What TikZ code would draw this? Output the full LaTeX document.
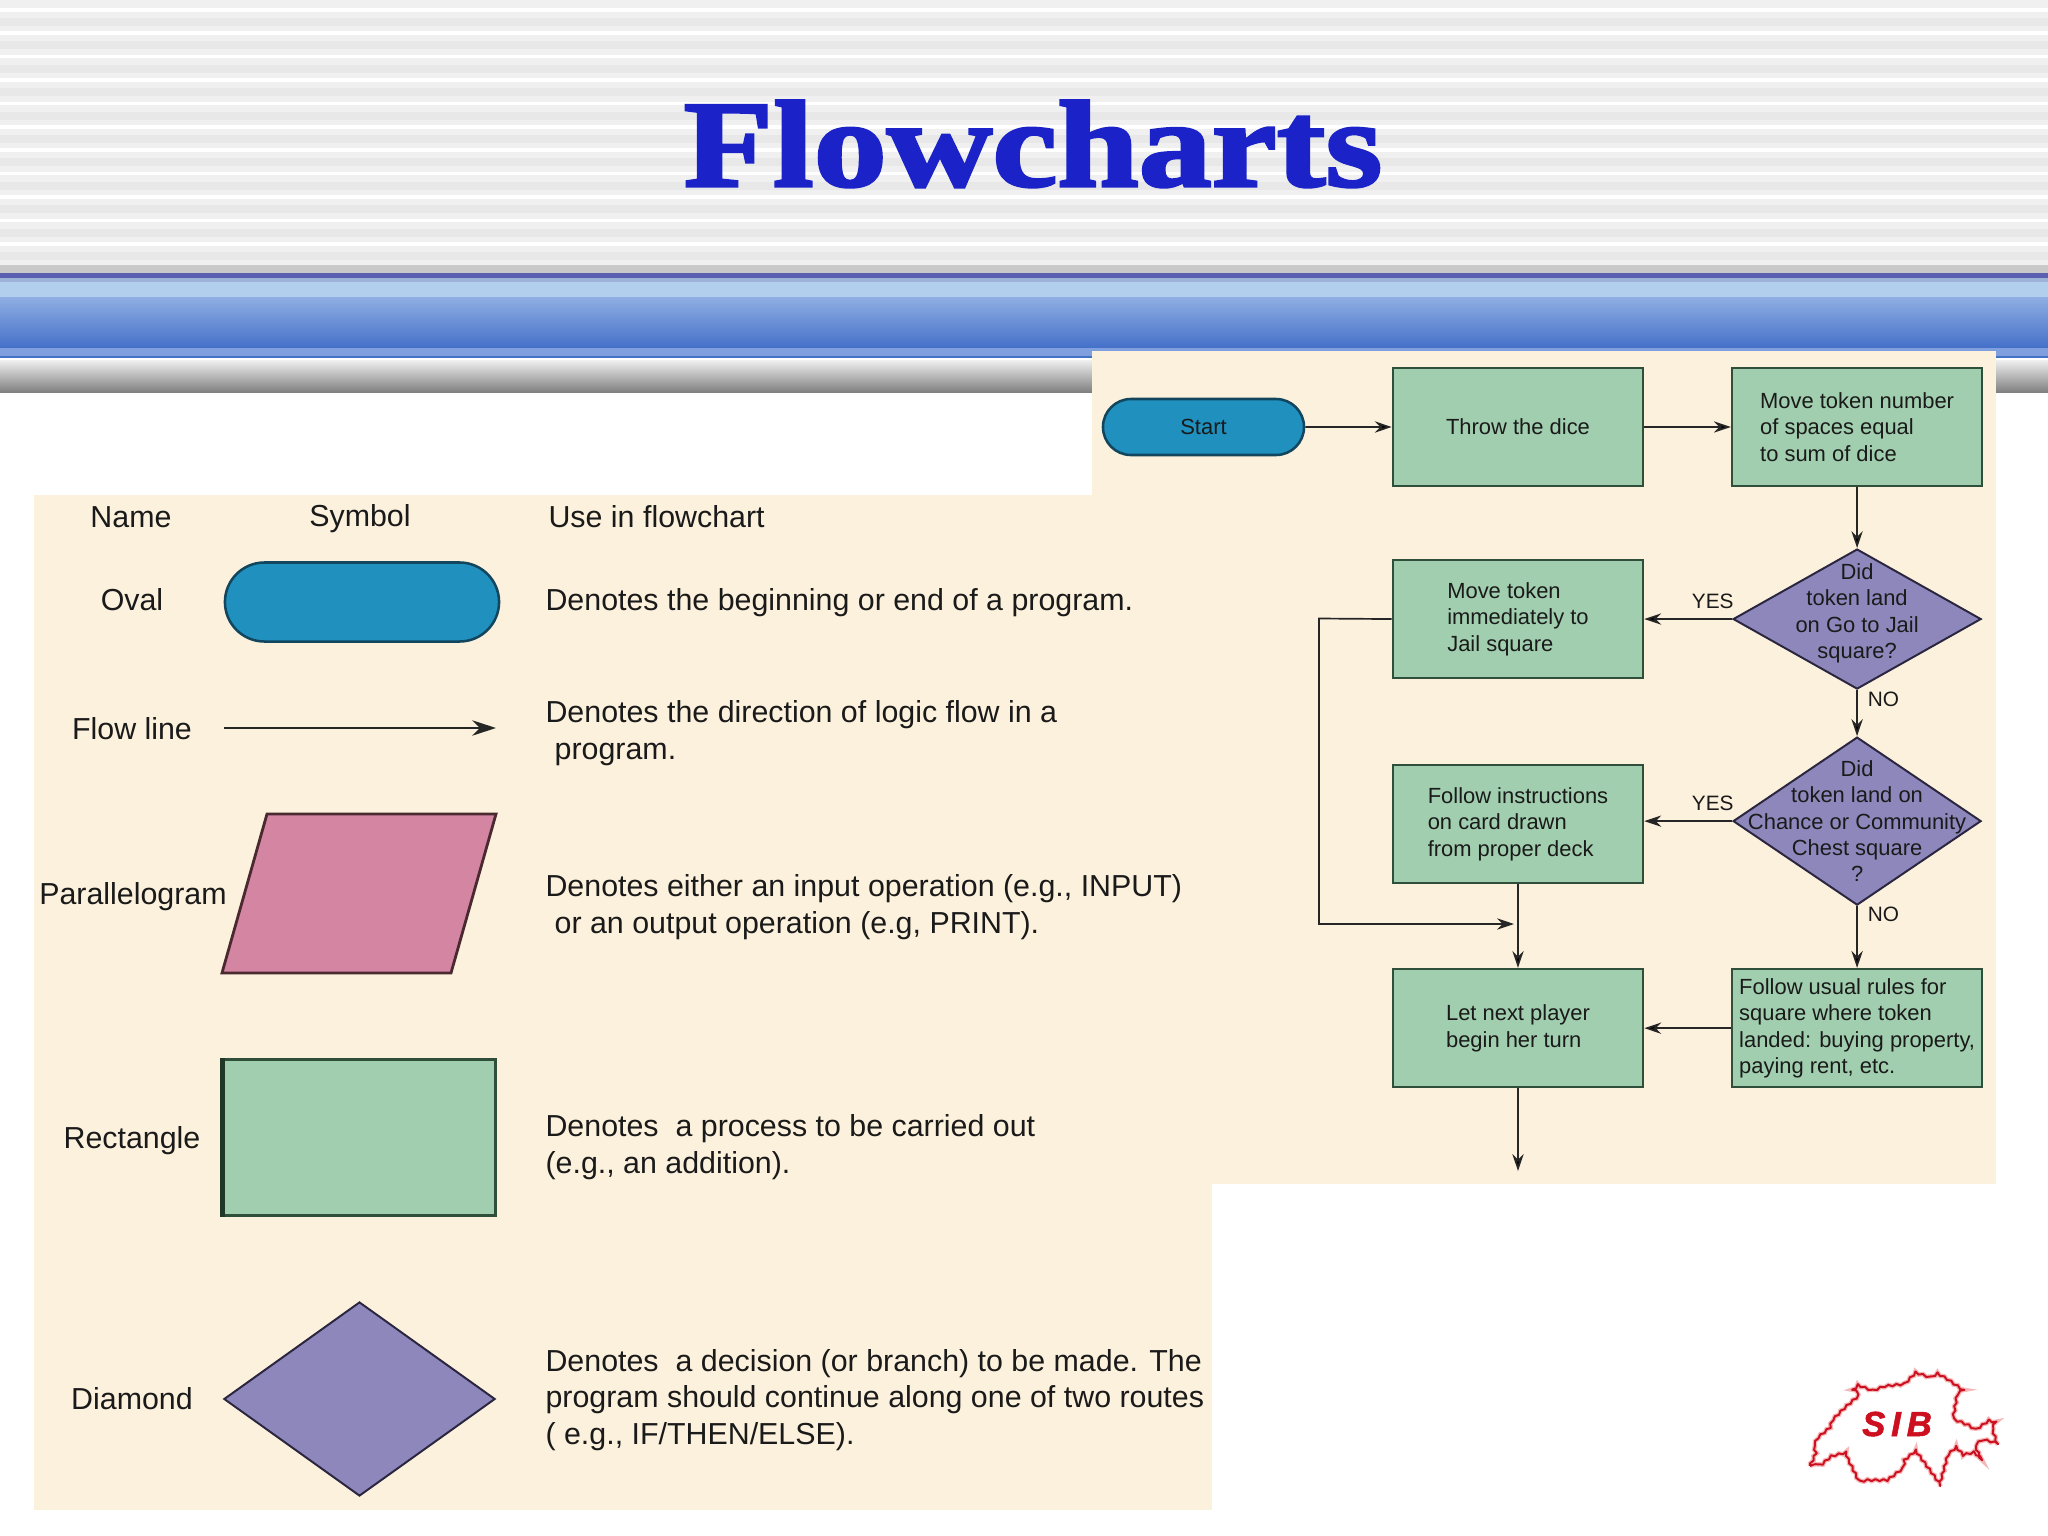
\documentclass[tikz,border=0pt]{standalone}
\usepackage{fontspec}
\usepackage{tikz}
\usetikzlibrary{positioning, arrows.meta, shapes.geometric, shapes.misc, decorations.pathmorphing}
\setmainfont{Liberation Sans}
\newfontfamily\titlefont[FakeBold=2.5,FakeStretch=1.19]{Liberation Serif Bold}
\newfontfamily\logofont[FakeBold=1.5]{Liberation Sans Bold Italic}

\definecolor{panelbg}{HTML}{FCF1DC}
\definecolor{ovalfill}{HTML}{2090BE}
\definecolor{ovaledge}{HTML}{12465F}
\definecolor{boxfill}{HTML}{A0CEAE}
\definecolor{boxedge}{HTML}{2F4F3A}
\definecolor{decfill}{HTML}{8E87BB}
\definecolor{decedge}{HTML}{2A2640}
\definecolor{pinkfill}{HTML}{D485A2}
\definecolor{pinkedge}{HTML}{4A2A30}
\definecolor{titleblue}{HTML}{1A22C8}
\definecolor{inktext}{HTML}{1A1A1A}
\definecolor{logored}{HTML}{CC1020}
\definecolor{logopale}{HTML}{F4B8B8}
\definecolor{bandrule}{HTML}{5A5FB0}
\definecolor{bandhaze}{HTML}{9DB4D8}
\definecolor{bandpale}{HTML}{B2CFEE}
\definecolor{bandtop}{HTML}{8FAEE3}
\definecolor{bandlow}{HTML}{4470C8}
\definecolor{bandmid}{HTML}{7F9FDE}

\tikzset{
    legendtext/.style={font=\fontsize{10.8}{13}\selectfont, text=inktext, inner sep=0pt},
    legenddesc/.style={legendtext, anchor=west, align=left},
    fctext/.style={font=\fontsize{7.8}{9.4}\selectfont, text=inktext, inner sep=0pt, align=center},
    oval/.style={rounded rectangle, draw=ovaledge, line width=0.9pt, fill=ovalfill},
    block/.style={rectangle, draw=boxedge, line width=0.9pt, fill=boxfill, inner sep=0pt,
        minimum width=3.125cm, minimum height=1.475cm, fctext},
    decision/.style={diamond, draw=decedge, line width=0.7pt, fill=decfill, inner sep=0pt,
        minimum width=3.1cm},
    flow/.style={draw=black!85, line width=0.6pt, -{Stealth[length=6pt,width=4pt]}},
    yesno/.style={fctext, font=\fontsize{7.4}{9}\selectfont}
}

\begin{document}
\begin{tikzpicture}[x=0.0125cm, y=-0.0125cm, on grid]
    \useasboundingbox (0,0) rectangle (2048,1536);
    \fill[white] (0,0) rectangle (2048,1536);

    % Define header
    \fill[black!6] (0,0) rectangle (2048,265);
    \foreach \i in {0,...,10} {
        \fill[white] (0,{8+23.4*\i}) rectangle (2048,{11.5+23.4*\i});
        \fill[black!9] (0,{18+23.4*\i}) rectangle (2048,{26+23.4*\i});
    }
    \fill[black!21] (0,265) rectangle (2048,273);
    \fill[bandrule] (0,273) rectangle (2048,278);
    \fill[bandhaze] (0,278) rectangle (2048,282);
    \fill[bandpale] (0,282) rectangle (2048,297);
    \shade[top color=bandtop, bottom color=bandlow] (0,297) rectangle (2048,348);
    \fill[bandmid] (0,348) rectangle (2048,356);
    \fill[bandlow] (0,356) rectangle (2048,358);
    \shade[top color=black!6, bottom color=black!50] (0,360) rectangle (2048,392);

    % Define panels
    \fill[panelbg] (1092,351) rectangle (1996,1184);
    \fill[panelbg] (34,495) rectangle (1212,1510);

    \node[font=\titlefont\fontsize{43.7}{44}\selectfont, text=titleblue, anchor=base, inner sep=0pt] (title) at (1033,186) {Flowcharts};

    % Define legend
    \node[legendtext] (hname) at (131,517) {Name};
    \node[legendtext] (hsymbol) at (360,519) {Symbol};
    \node[legenddesc] (huse) at (548,517) {Use in flowchart};

    \node[legendtext] (lname1) at (132,600) {Oval};
    \node[legendtext] (lname2) at (132,729) {Flow line};
    \node[legendtext] (lname3) at (133,897) {Parallelogram};
    \node[legendtext] (lname4) at (132,1141) {Rectangle};
    \node[legendtext] (lname5) at (132,1399) {Diamond};

    \node[oval, minimum width=3.66cm, minimum height=0.9875cm] (legoval) at (362,602) {};
    \coordinate (lineA) at (224,728);
    \coordinate (lineB) at (496,728);
    \draw[line width=0.7pt, draw=black!85, -{Stealth[length=8.5pt,width=5.5pt]}] (lineA) -- (lineB);
    \draw[pinkedge, line width=1pt, fill=pinkfill] (267,814) -- (496,814) -- (451,973) -- (222,973) -- cycle;
    \node[rectangle, draw=boxedge, line width=1.1pt, fill=boxfill, minimum width=3.39cm, minimum height=1.94cm] (legbox) at (359.5,1137.5) {};
    \draw[boxedge!70!black, line width=1.6pt] (legbox.north west) -- (legbox.south west);
    \node[decision, minimum width=3.39cm, minimum height=2.425cm] (legdec) at (359.5,1399) {};

    \node[legenddesc] (ldesc1) at (545,603) {Denotes the beginning or end of a program.};
    \node[legenddesc] (ldesc2) at (545,733) {Denotes the direction of logic flow in a\\\hspace*{0.3em}program.};
    \node[legenddesc] (ldesc3) at (545,907) {Denotes either an input operation (e.g., INPUT)\\\hspace*{0.3em}or an output operation (e.g, PRINT).};
    \node[legenddesc] (ldesc4) at (545,1147) {Denotes\ \ a process to be carried out\\(e.g., an addition).};
    \node[legenddesc] (ldesc5) at (545,1400) {Denotes\ \ a decision (or branch) to be made. The\\program should continue along one of two routes\\( e.g., IF/THEN/ELSE).};

    % Define flowchart
    \node[block] (throw) at (1518,427) {Throw the dice};
    \node[oval, minimum width=2.5125cm, minimum height=0.7cm, fctext] (start) at (1203.5,427) {Start};
    \node[block, align=left] (sum) [right=4.2375cm of throw] {Move token number\\of spaces equal\\to sum of dice};
    \node[decision, minimum height=1.75cm, label={[fctext, yshift=2pt]center:{Did\\token land\\on Go to Jail\\square?}}] (jailq) [below=2.4cm of sum] {};
    \node[block, align=left] (jail) [left=4.2375cm of jailq] {Move token\\immediately to\\Jail square};
    \node[decision, minimum height=2.1cm, label={[fctext]center:{Did\\token land on\\Chance or Community\\Chest square\\?}}] (chanceq) [below=2.525cm of jailq] {};
    \node[block, align=left] (card) [left=4.2375cm of chanceq, yshift=-1pt] {Follow instructions\\on card drawn\\from proper deck};
    \node[block, align=left] (rules) [below=2.5875cm of chanceq] {Follow usual rules for\\square where token\\landed: buying property,\\paying rent, etc.};
    \node[block, align=left] (next) [left=4.2375cm of rules] {Let next player\\begin her turn};
    \coordinate (cardin) at (card.east |- chanceq.west);
    \coordinate (exitpt) at (1518,1171);
    \coordinate (joinpt) at (1514,924);

    % Define transitions
    \path[flow]
    (start) edge (throw)
    (throw) edge (sum)
    (sum) edge (jailq)
    (jailq) edge node[yesno, above=3.3pt, pos=0.22] (yes1) {YES} (jail)
        (jailq) edge node[yesno, right=3.5pt, pos=0.2] (no1) {NO} (chanceq)
        (chanceq) edge node[yesno, right=3.5pt, pos=0.14] (no2) {NO} (rules)
    (card) edge (next)
    (rules) edge (next)
    (next) edge (exitpt);
    \draw[flow] (chanceq.west) -- node[yesno, above=3.3pt, pos=0.22] (yes2) {YES} (cardin);
    \draw[flow] (jail.west) -- (1319,618.5) |- (joinpt);

    % Define logo
    \begin{scope}[shift={(1760,1340)}, scale=0.3333]
        \draw[logored, line width=0.7pt, line join=round, preaction={draw=logopale, line width=1.6pt},
            decorate, decoration={snake, amplitude=0.012cm, segment length=0.1cm}]
            (150,378) -- (165,345) -- (160,325) -- (175,295) -- (205,270) -- (215,240) -- (250,205) -- (290,170)
            -- (270,155) -- (290,135) -- (330,150) -- (370,135) -- (430,128) -- (460,97) -- (500,110) -- (525,95)
            -- (560,115) -- (610,150) -- (590,165) -- (580,225) -- (630,245) -- (650,258) -- (690,230) -- (708,235)
            -- (695,265) -- (708,305) -- (665,295) -- (645,310) -- (665,360) -- (640,340) -- (600,350) -- (575,322)
            -- (550,345) -- (525,435) -- (500,400) -- (445,325) -- (415,350) -- (410,385) -- (370,415) -- (310,415)
            -- (280,420) -- (250,360) -- (240,330) -- (200,340) -- (165,370) -- cycle;
    \end{scope}
    \node[font=\logofont\fontsize{12.4}{13}\selectfont, text=logored, inner sep=0pt] (logotext) at (1897,1424) {S\,I\,B};
\end{tikzpicture}
\end{document}
